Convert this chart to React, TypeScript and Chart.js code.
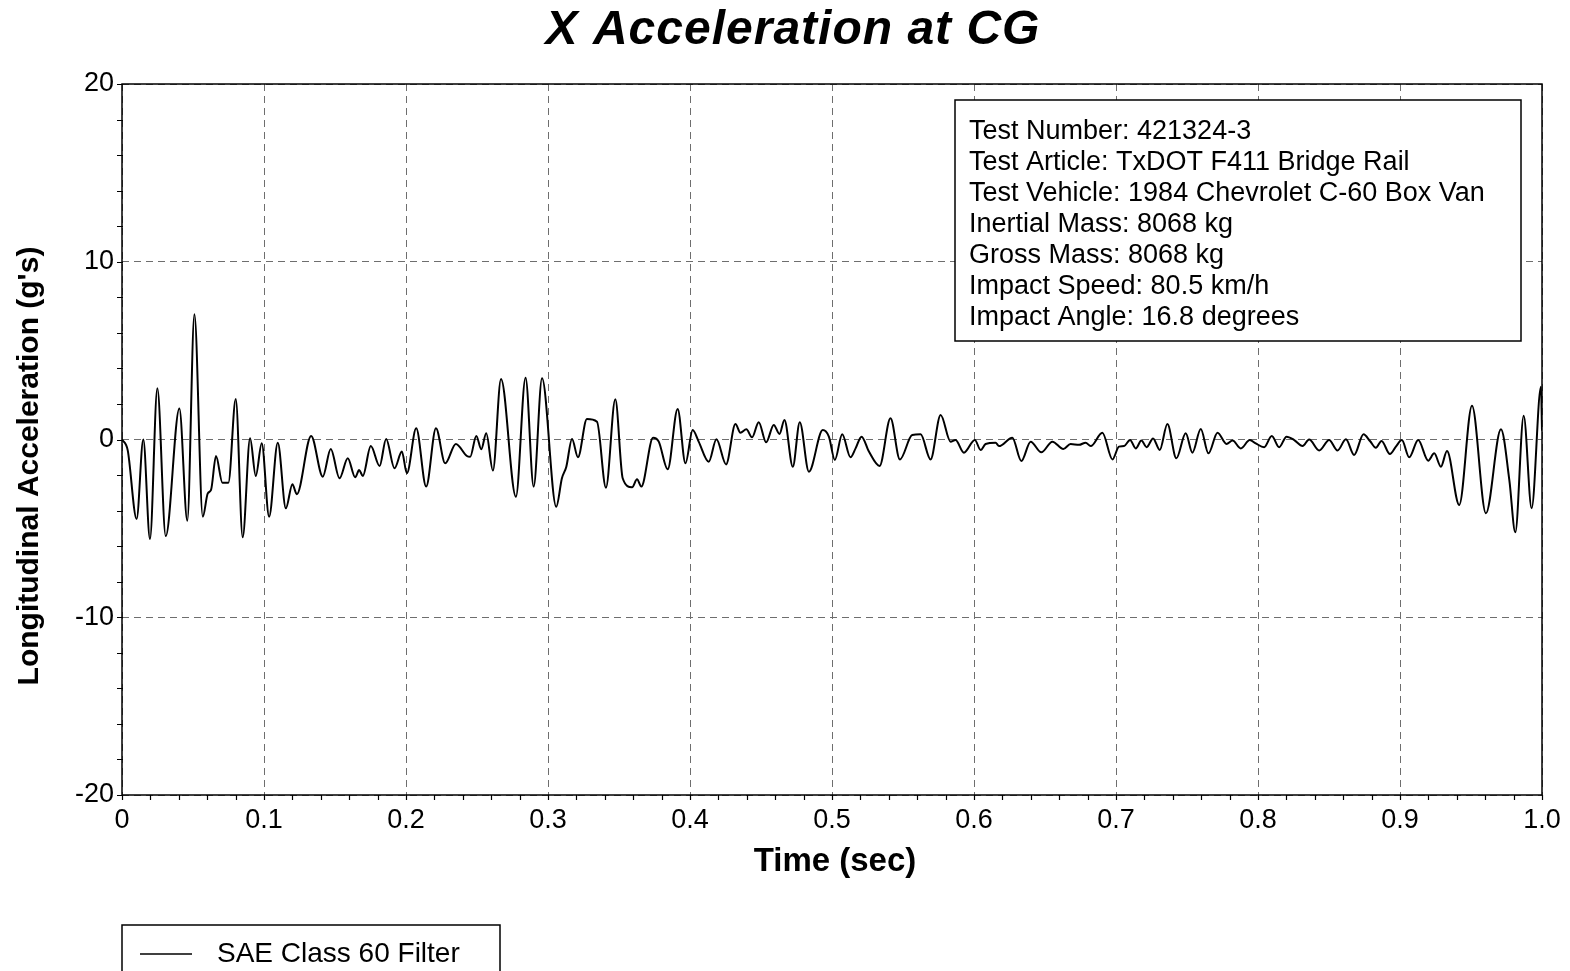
import React, { useEffect, useRef } from "react";
import { Chart, registerables } from "chart.js";

Chart.register(...registerables);

const chartTitle = "X Acceleration at CG";
const xAxisTitle = "Time (sec)";
const yAxisTitle = "Longitudinal Acceleration (g's)";
const seriesLabel = "SAE Class 60 Filter";
const infoLines = [
  "Test Number: 421324-3",
  "Test Article: TxDOT F411 Bridge Rail",
  "Test Vehicle: 1984 Chevrolet C-60 Box Van",
  "Inertial Mass: 8068 kg",
  "Gross Mass: 8068 kg",
  "Impact Speed: 80.5 km/h",
  "Impact Angle: 16.8 degrees",
];
const xTickLabels = ["0", "0.1", "0.2", "0.3", "0.4", "0.5", "0.6", "0.7", "0.8", "0.9", "1.0"];
const yTickValues = [-20, -10, 0, 10, 20];

const timeValues = [
  0, 0.004, 0.0103, 0.015, 0.0197, 0.0249, 0.0308, 0.0404, 0.046, 0.051,
  0.0569, 0.0604, 0.0627, 0.0662, 0.0707, 0.0749, 0.0801, 0.085, 0.0902, 0.0942,
  0.0984, 0.1036, 0.1097, 0.1154, 0.12, 0.1231, 0.1332, 0.1414, 0.147, 0.1532,
  0.159, 0.1642, 0.167, 0.1696, 0.1752, 0.1814, 0.186, 0.1919, 0.1971, 0.2006,
  0.2072, 0.2142, 0.2211, 0.2276, 0.2351, 0.2429, 0.2452, 0.2495, 0.253, 0.2565,
  0.2612, 0.2669, 0.2774, 0.2842, 0.2899, 0.2958, 0.3058, 0.3098, 0.3129, 0.3169,
  0.3211, 0.3274, 0.3345, 0.3408, 0.3474, 0.3526, 0.3592, 0.3627, 0.3657, 0.374,
  0.378, 0.3843, 0.3913, 0.3968, 0.4019, 0.4061, 0.4132, 0.4186, 0.4254, 0.432,
  0.4355, 0.4397, 0.4437, 0.4484, 0.4536, 0.459, 0.463, 0.4665, 0.4724, 0.4773,
  0.4837, 0.4935, 0.4978, 0.502, 0.5072, 0.513, 0.5166, 0.5208, 0.526, 0.5335,
  0.5412, 0.5478, 0.5565, 0.5624, 0.5694, 0.5765, 0.5835, 0.587, 0.5929, 0.6006,
  0.6047, 0.6082, 0.6152, 0.6176, 0.627, 0.6333, 0.6399, 0.6474, 0.6552, 0.6629,
  0.668, 0.674, 0.6786, 0.6822, 0.6904, 0.6975, 0.7021, 0.7057, 0.7099, 0.7139,
  0.7179, 0.7216, 0.7261, 0.7308, 0.7362, 0.7425, 0.7491, 0.7538, 0.7597, 0.7651,
  0.7715, 0.7778, 0.7821, 0.7879, 0.7942, 0.7984, 0.8043, 0.8097, 0.8149, 0.8201,
  0.8255, 0.8314, 0.836, 0.8431, 0.8501, 0.856, 0.8619, 0.8677, 0.8743, 0.879,
  0.883, 0.887, 0.8929, 0.8971, 0.9013, 0.9065, 0.9128, 0.9199, 0.9241, 0.9288,
  0.9331, 0.9417, 0.9507, 0.9605, 0.9711, 0.977, 0.9812, 0.9871, 0.9927, 0.9993,
  1.0,
];

const accelValues = [
  0, -0.6, -4.47, 0, -5.6, 2.88, -5.43, 1.75, -4.57, 7.04,
  -4.34, -3.03, -2.84, -0.93, -2.43, -2.43, 2.28, -5.5, 0.07, -2.05,
  -0.21, -4.34, -0.18, -3.87, -2.52, -3.08, 0.2, -2.09, -0.53, -2.18,
  -1.06, -2.13, -1.72, -2.05, -0.37, -1.49, 0.03, -1.62, -0.68, -1.9,
  0.63, -2.65, 0.63, -1.34, -0.25, -0.93, -0.97, 0.2, -0.55, 0.35,
  -1.75, 3.4, -3.22, 3.48, -2.65, 3.44, -3.78, -2.18, -1.53, 0.03,
  -1.0, 1.15, 1.0, -2.71, 2.26, -2.18, -2.69, -2.24, -2.65, 0.1,
  -0.12, -1.68, 1.72, -1.34, 0.53, -0.12, -1.25, 0.01, -1.4, 0.87,
  0.38, 0.57, 0.12, 0.97, -0.16, 0.82, 0.31, 1.1, -1.53, 0.97,
  -1.81, 0.53, 0.16, -1.15, 0.29, -1.0, -0.5, 0.16, -0.68, -1.49,
  1.19, -1.12, 0.25, 0.29, -1.12, 1.38, -0.12, -0.03, -0.74, -0.03,
  -0.59, -0.25, -0.18, -0.37, 0.1, -1.21, -0.12, -0.72, -0.12, -0.53,
  -0.25, -0.3, -0.18, -0.37, 0.38, -1.12, -0.4, -0.37, -0.03, -0.5,
  -0.06, -0.43, 0.06, -0.59, 0.87, -1.06, 0.35, -0.74, 0.59, -0.78,
  0.38, -0.25, -0.06, -0.5, -0.03, -0.22, -0.43, 0.2, -0.43, 0.16,
  -0.03, -0.37, 0.0, -0.62, -0.03, -0.62, 0.01, -0.87, 0.29, -0.1,
  -0.46, -0.08, -0.82, -0.4, -0.03, -1.0, -0.03, -1.19, -0.78, -1.53,
  -0.65, -3.68, 1.9, -4.15, 0.57, -2.28, -5.22, 1.34, -3.87, 2.97,
  0.5,
];

const FONT = '"Liberation Sans", Arial, Helvetica, sans-serif';

const decorPlugin = {
  id: "decor",
  afterDraw(chart: any) {
    const { ctx, chartArea } = chart;
    const xs = chart.scales.x;
    const ys = chart.scales.y;
    const { left, right, top, bottom } = chartArea;
    ctx.save();

    // frame
    ctx.strokeStyle = "#000";
    ctx.lineWidth = 1.5;
    ctx.setLineDash([]);
    ctx.strokeRect(left, top, right - left, bottom - top);

    // ticks
    ctx.lineWidth = 1.2;
    ctx.beginPath();
    for (let i = 0; i <= 50; i++) {
      const px = Math.round(xs.getPixelForValue(i * 0.02)) + 0.5;
      ctx.moveTo(px, bottom);
      ctx.lineTo(px, bottom + 5);
    }
    for (let i = 0; i <= 20; i++) {
      const py = Math.round(ys.getPixelForValue(-20 + i * 2)) + 0.5;
      ctx.moveTo(left - 5, py);
      ctx.lineTo(left + 1, py);
    }
    ctx.stroke();

    // title
    ctx.fillStyle = "#000";
    ctx.textAlign = "center";
    ctx.textBaseline = "middle";
    ctx.font = `italic bold 48px ${FONT}`;
    try {
      (ctx as any).letterSpacing = "1px";
    } catch (e) {}
    ctx.fillText(chartTitle, 793, 31);
    try {
      (ctx as any).letterSpacing = "0px";
    } catch (e) {}

    // x axis title
    ctx.font = `bold 33px ${FONT}`;
    ctx.fillText(xAxisTitle, 835, 862);

    // y axis title
    ctx.save();
    ctx.translate(30, 466);
    ctx.rotate(-Math.PI / 2);
    ctx.font = `bold 30px ${FONT}`;
    ctx.fillText(yAxisTitle, 0, 0);
    ctx.restore();

    // info box
    ctx.fillStyle = "#fff";
    ctx.fillRect(955, 100, 566, 241);
    ctx.strokeStyle = "#000";
    ctx.lineWidth = 1.5;
    ctx.strokeRect(955, 100, 566, 241);
    ctx.fillStyle = "#000";
    ctx.textAlign = "left";
    ctx.textBaseline = "middle";
    ctx.font = `27px ${FONT}`;
    infoLines.forEach((line, i) => {
      ctx.fillText(line, 969, 132 + i * 31);
    });

    // legend box
    ctx.fillStyle = "#fff";
    ctx.fillRect(122, 925, 378, 60);
    ctx.strokeRect(122, 925, 378, 60);
    ctx.beginPath();
    ctx.lineWidth = 1.5;
    ctx.moveTo(140, 954);
    ctx.lineTo(192, 954);
    ctx.stroke();
    ctx.fillStyle = "#000";
    ctx.font = `28px ${FONT}`;
    ctx.fillText(seriesLabel, 217, 954);

    ctx.restore();
  },
};

export default function App() {
  const canvasRef = useRef<HTMLCanvasElement | null>(null);

  useEffect(() => {
    const canvas = canvasRef.current;
    if (!canvas) return;
    const points = timeValues.map((t, i) => ({ x: t, y: accelValues[i] }));
    const chart = new Chart(canvas, {
      type: "line",
      data: {
        datasets: [
          {
            label: seriesLabel,
            data: points,
            borderColor: "#000",
            borderWidth: 2,
            pointRadius: 0,
            fill: false,
            cubicInterpolationMode: "monotone",
          },
        ],
      },
      options: {
        animation: false,
        responsive: false,
        maintainAspectRatio: false,
        events: [],
        layout: { padding: { top: 84, right: 28, left: 0, bottom: 0 } },
        plugins: {
          legend: { display: false },
          title: { display: false },
          tooltip: { enabled: false },
        },
        scales: {
          x: {
            type: "linear",
            min: 0,
            max: 1,
            afterFit: (s: any) => {
              s.height = 176;
            },
            afterBuildTicks: (s: any) => {
              s.ticks = xTickLabels.map((_, i) => ({ value: i / 10 }));
            },
            ticks: {
              autoSkip: false,
              maxRotation: 0,
              padding: 9,
              color: "#000",
              font: { family: FONT, size: 27 },
              callback: (_v: any, i: number) => xTickLabels[i],
            },
            grid: { color: "#6e6e6e", lineWidth: 1, drawTicks: false },
            border: { display: false, dash: [7, 5] },
          },
          y: {
            type: "linear",
            min: -20,
            max: 20,
            afterFit: (s: any) => {
              s.width = 122;
            },
            afterBuildTicks: (s: any) => {
              s.ticks = yTickValues.map((v) => ({ value: v }));
            },
            ticks: {
              autoSkip: false,
              padding: 8,
              color: "#000",
              font: { family: FONT, size: 27 },
              callback: (v: any) => String(v),
            },
            grid: { color: "#6e6e6e", lineWidth: 1, drawTicks: false },
            border: { display: false, dash: [7, 5] },
          },
        },
      },
      plugins: [decorPlugin],
    });
    return () => chart.destroy();
  }, []);

  return (
    <div style={{ position: "fixed", left: 0, top: 0, width: 1570, height: 971, background: "#fff" }}>
      <canvas ref={canvasRef} width={1570} height={971} style={{ display: "block" }} />
    </div>
  );
}
